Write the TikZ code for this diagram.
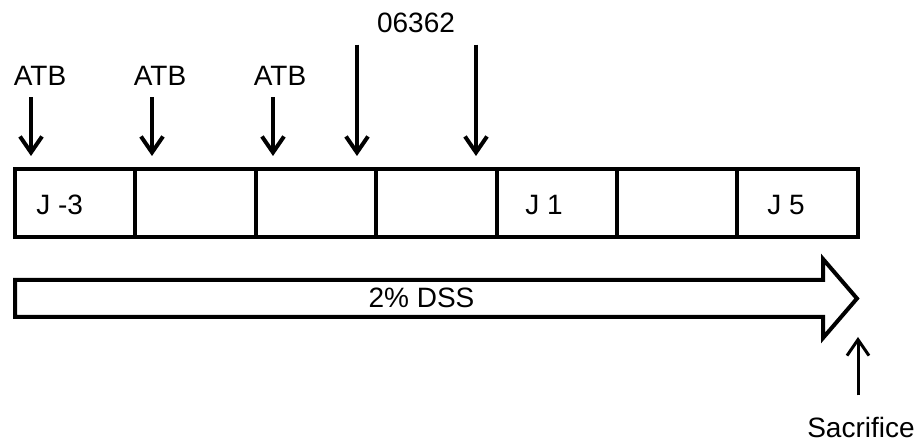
\documentclass[tikz,border=0pt]{standalone}
\usepackage{fontspec}
\setmainfont{Liberation Sans}
\usetikzlibrary{arrows.meta}

\tikzset{
  cell/.style={draw,line width=2pt,minimum width=60.2pt,minimum height=34pt,inner sep=0pt},
  dose/.style={line width=2pt,-{Straight Barb[length=8pt,width=11pt]}},
  lbl/.style={font=\fontsize{14}{17}\selectfont,inner sep=0pt}
}

\begin{document}
\begin{tikzpicture}[x=0.5pt,y=-0.5pt]
        \useasboundingbox (0,0) rectangle (918,443) ;
        % the days
        \foreach \i in {1,...,7}
          \node[cell] (c\i) at ({15+120.4*(\i-0.5)},203.5) {} ;
        \node[lbl,anchor=base west] (jm3) at (36,215) {J -3} ;
        \node[lbl,anchor=base west] (jp1) at (525,215) {J 1} ;
        \node[lbl,anchor=base west] (jp5) at (767,215) {J 5} ;
        % treatments
        \node[lbl,anchor=base] (atb1) at (40,86) {ATB} ;
        \node[lbl,anchor=base] (atb2) at (160,86) {ATB} ;
        \node[lbl,anchor=base] (atb3) at (280,86) {ATB} ;
        \coordinate (a1) at (31,156) ;
        \coordinate (a2) at (152,156) ;
        \coordinate (a3) at (273,156) ;
        \foreach \i in {1,2,3}
          \draw[dose] ([yshift=-5.5pt]atb\i.south -| a\i) -- (a\i) ;
        \node[lbl,anchor=base] (cmpd) at (416,33) {06362} ;
        \coordinate (g1) at (357,156) ;
        \coordinate (g2) at (476,156) ;
        \draw[dose] ([yshift=-5.5pt]cmpd.south -| g1) -- (g1) ;
        \draw[dose] ([yshift=-5.5pt]cmpd.south -| g2) -- (g2) ;
        % DSS
        \draw[line width=2pt]
        (15,280)--(823,280)--(823,259)--(857,298.5)--(823,338)--(823,317)--(15,317)--cycle ;
        \node[lbl,anchor=base] (dss) at (421.5,308) {2\% DSS} ;
        % end
        \node[lbl,anchor=base] (sac) at (861,438) {Sacrifice} ;
        \coordinate (s) at (858,337) ;
        \draw[line width=1.5pt,-{Straight Barb[length=8pt,width=11pt]}]
        ([yshift=11pt]sac.north -| s) -- (s) ;
      \end{tikzpicture}
\end{document}
